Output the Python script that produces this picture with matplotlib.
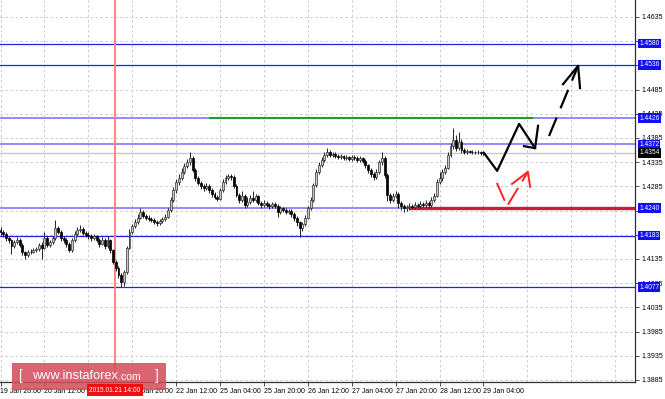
import numpy as np
import matplotlib
matplotlib.use("Agg")
import matplotlib.pyplot as plt
import matplotlib.transforms as mtransforms
from matplotlib.patches import Rectangle

plt.rcParams['font.family'] = ['Liberation Sans', 'DejaVu Sans']

# H1 candles, open of each bar = close of the previous one
first_open = 1.4195
closes = [
    1.4191, 1.4187, 1.4178, 1.4174, 1.4162, 1.4170, 1.4174, 1.4164, 1.4149, 1.4143,
    1.4149, 1.4150, 1.4153, 1.4155, 1.4164, 1.4158, 1.4178, 1.4164, 1.4170, 1.4178,
    1.4199, 1.4191, 1.4178, 1.4174, 1.4166, 1.4153, 1.4174, 1.4187, 1.4195, 1.4197,
    1.4189, 1.4184, 1.4182, 1.4178, 1.4182, 1.4174, 1.4166, 1.4174, 1.4162, 1.4174,
    1.4153, 1.4129, 1.4116, 1.4102, 1.4087, 1.4108, 1.4158, 1.4191, 1.4203, 1.4211,
    1.4220, 1.4232, 1.4224, 1.4220, 1.4218, 1.4215, 1.4211, 1.4209, 1.4213, 1.4218,
    1.4222, 1.4236, 1.4257, 1.4277, 1.4294, 1.4302, 1.4315, 1.4327, 1.4335, 1.4343,
    1.4319, 1.4302, 1.4292, 1.4286, 1.4282, 1.4286, 1.4277, 1.4269, 1.4263, 1.4259,
    1.4277, 1.4294, 1.4302, 1.4306, 1.4304, 1.4286, 1.4267, 1.4257, 1.4265, 1.4246,
    1.4253, 1.4261, 1.4257, 1.4265, 1.4251, 1.4246, 1.4251, 1.4247, 1.4244, 1.4249,
    1.4245, 1.4232, 1.4240, 1.4236, 1.4232, 1.4235, 1.4228, 1.4220, 1.4211, 1.4199,
    1.4207, 1.4220, 1.4240, 1.4257, 1.4288, 1.4315, 1.4329, 1.4339, 1.4350, 1.4356,
    1.4350, 1.4352, 1.4348, 1.4346, 1.4347, 1.4343, 1.4345, 1.4341, 1.4346, 1.4344,
    1.4339, 1.4343, 1.4338, 1.4329, 1.4319, 1.4310, 1.4304, 1.4315, 1.4335, 1.4343,
    1.4308, 1.4267, 1.4257, 1.4265, 1.4269, 1.4251, 1.4244, 1.4240, 1.4242, 1.4244,
    1.4243, 1.4246, 1.4245, 1.4249, 1.4247, 1.4251, 1.4246, 1.4257, 1.4265, 1.4294,
    1.4302, 1.4315, 1.4323, 1.4350, 1.4368, 1.4381, 1.4364, 1.4377, 1.4360, 1.4356,
    1.4358, 1.4357, 1.4356, 1.4355, 1.4356, 1.4353, 1.4354,
]
highs = [
    1.4201, 1.4195, 1.4190, 1.4182, 1.4177, 1.4175, 1.4180, 1.4178, 1.4167, 1.4152,
    1.4153, 1.4155, 1.4158, 1.4160, 1.4168, 1.4170, 1.4190, 1.4182, 1.4175, 1.4183,
    1.4215, 1.4204, 1.4194, 1.4182, 1.4178, 1.4170, 1.4178, 1.4192, 1.4200, 1.4205,
    1.4200, 1.4192, 1.4190, 1.4186, 1.4187, 1.4185, 1.4178, 1.4180, 1.4178, 1.4182,
    1.4177, 1.4156, 1.4133, 1.4120, 1.4106, 1.4112, 1.4162, 1.4196, 1.4208, 1.4217,
    1.4228, 1.4241, 1.4236, 1.4228, 1.4225, 1.4222, 1.4219, 1.4215, 1.4218, 1.4222,
    1.4228, 1.4240, 1.4262, 1.4284, 1.4300, 1.4310, 1.4322, 1.4333, 1.4342, 1.4356,
    1.4347, 1.4322, 1.4306, 1.4296, 1.4290, 1.4291, 1.4290, 1.4281, 1.4273, 1.4267,
    1.4282, 1.4300, 1.4308, 1.4311, 1.4310, 1.4308, 1.4290, 1.4272, 1.4275, 1.4270,
    1.4262, 1.4268, 1.4276, 1.4270, 1.4268, 1.4255, 1.4256, 1.4255, 1.4251, 1.4253,
    1.4252, 1.4248, 1.4244, 1.4243, 1.4240, 1.4239, 1.4238, 1.4231, 1.4224, 1.4214,
    1.4212, 1.4225, 1.4245, 1.4262, 1.4292, 1.4320, 1.4335, 1.4346, 1.4356, 1.4364,
    1.4360, 1.4357, 1.4355, 1.4352, 1.4351, 1.4350, 1.4350, 1.4348, 1.4350, 1.4349,
    1.4347, 1.4348, 1.4346, 1.4341, 1.4332, 1.4323, 1.4314, 1.4320, 1.4340, 1.4356,
    1.4347, 1.4312, 1.4272, 1.4272, 1.4276, 1.4273, 1.4255, 1.4249, 1.4247, 1.4250,
    1.4249, 1.4252, 1.4251, 1.4255, 1.4253, 1.4256, 1.4254, 1.4262, 1.4272, 1.4300,
    1.4315, 1.4320, 1.4330, 1.4356, 1.4375, 1.4406, 1.4392, 1.4398, 1.4382, 1.4364,
    1.4362, 1.4361, 1.4360, 1.4359, 1.4360, 1.4358, 1.4358,
]
lows = [
    1.4185, 1.4180, 1.4172, 1.4168, 1.4145, 1.4158, 1.4166, 1.4160, 1.4143, 1.4135,
    1.4140, 1.4145, 1.4147, 1.4150, 1.4152, 1.4135, 1.4155, 1.4160, 1.4160, 1.4166,
    1.4175, 1.4186, 1.4172, 1.4168, 1.4160, 1.4150, 1.4150, 1.4170, 1.4183, 1.4190,
    1.4185, 1.4180, 1.4176, 1.4172, 1.4175, 1.4170, 1.4160, 1.4163, 1.4155, 1.4158,
    1.4148, 1.4124, 1.4110, 1.4095, 1.4077, 1.4080, 1.4104, 1.4155, 1.4187, 1.4198,
    1.4207, 1.4217, 1.4219, 1.4215, 1.4213, 1.4211, 1.4207, 1.4204, 1.4205, 1.4209,
    1.4214, 1.4219, 1.4232, 1.4252, 1.4272, 1.4288, 1.4298, 1.4310, 1.4322, 1.4330,
    1.4315, 1.4296, 1.4287, 1.4280, 1.4276, 1.4278, 1.4272, 1.4264, 1.4259, 1.4254,
    1.4256, 1.4273, 1.4290, 1.4298, 1.4299, 1.4281, 1.4262, 1.4250, 1.4252, 1.4241,
    1.4242, 1.4249, 1.4252, 1.4253, 1.4246, 1.4241, 1.4243, 1.4242, 1.4239, 1.4240,
    1.4240, 1.4222, 1.4228, 1.4231, 1.4227, 1.4228, 1.4222, 1.4214, 1.4203, 1.4181,
    1.4193, 1.4203, 1.4217, 1.4236, 1.4253, 1.4284, 1.4311, 1.4325, 1.4335, 1.4345,
    1.4345, 1.4346, 1.4343, 1.4341, 1.4342, 1.4339, 1.4340, 1.4337, 1.4338, 1.4340,
    1.4335, 1.4336, 1.4333, 1.4323, 1.4312, 1.4305, 1.4298, 1.4300, 1.4311, 1.4330,
    1.4303, 1.4255, 1.4250, 1.4253, 1.4260, 1.4240, 1.4236, 1.4232, 1.4235, 1.4237,
    1.4238, 1.4239, 1.4240, 1.4241, 1.4242, 1.4243, 1.4241, 1.4243, 1.4252, 1.4262,
    1.4290, 1.4296, 1.4310, 1.4320, 1.4345, 1.4362, 1.4358, 1.4360, 1.4354, 1.4351,
    1.4352, 1.4353, 1.4352, 1.4351, 1.4351, 1.4349, 1.4350,
]

# price axis + time axis labels (tick every 16 bars); empty = hidden under a box
price_ticks = [1.3885, 1.3935, 1.3985, 1.4035, 1.4085, 1.4135, 1.4185, 1.4235,
               1.4285, 1.4335, 1.4385, 1.4435, 1.4485, 1.4535, 1.4585, 1.4635]
price_labels = ["1.3885", "1.3935", "1.3985", "1.4035", "1.4085", "1.4135", "", "",
                "1.4285", "1.4335", "1.4385", "1.4435", "1.4485", "", "", "1.4635"]
time_labels = ["19 Jan 20:00", "20 Jan 12:00", "", "21 Jan 20:00",
               "22 Jan 12:00", "25 Jan 04:00", "25 Jan 20:00", "26 Jan 12:00",
               "27 Jan 04:00", "27 Jan 20:00", "28 Jan 12:00", "29 Jan 04:00"]
bars_per_label = 16

# horizontal levels
strong_levels = [1.4580, 1.4536, 1.4183, 1.4077]
soft_levels = [1.4426, 1.4372, 1.4240]
last_price = 1.4354
green_level, green_from, green_to = 1.4426, 76.3, 193.7
red_level, red_from = 1.4240, 149.6
vline_bar, vline_label = 41.7, "2015.01.21 14:00"

# hand drawn forecast (bar position, price)
black_path_x = [176.2, 181.0, 189.0, 194.8]
black_path_y = [1.4354, 1.4317, 1.4414, 1.4364]
black_head1_x = [190.8, 194.8, 195.9]
black_head1_y = [1.4368, 1.4364, 1.4410]
black_dash_x = [199.9, 210.5]
black_dash_y = [1.4389, 1.4534]
black_head2_x = [205.0, 210.5, 211.2]
black_head2_y = [1.4496, 1.4534, 1.4488]
red_path_x = [180.9, 184.6, 192.2]
red_path_y = [1.4292, 1.4244, 1.4315]
red_head_x = [186.4, 192.2, 193.0]
red_head_y = [1.4290, 1.4315, 1.4284]

W, H = 665, 399
fig = plt.figure(figsize=(W / 100, H / 100), dpi=100)
ax = fig.add_axes([0, 17 / H, 635 / W, 382 / H])

px_per_bar = 2.744
ax.set_xlim(-0.5 / px_per_bar, 634.5 / px_per_bar)
ax.set_ylim(1.38808, 1.4670)

# grid
grid_kw = dict(color='#c4c4c4', lw=0.6, dashes=(3, 3), zorder=0)
for p in price_ticks:
    ax.axhline(p, **grid_kw)
for k in range(15):
    ax.axvline(k * bars_per_label, **grid_kw)

# levels
for lv in strong_levels:
    ax.axhline(lv, color='#2020f0', lw=0.9, zorder=2)
for lv in soft_levels:
    ax.axhline(lv, color='#8c8cff', lw=1.4, zorder=2)
ax.axhline(last_price, color='#c8c8c8', lw=1.0, zorder=1)
ax.axvline(vline_bar, color='#ff7a7a', lw=1.3, zorder=2)
ax.plot([green_from, green_to], [green_level, green_level], color='#1f9e2a', lw=1.5, zorder=3)
ax.plot([red_from, 232], [red_level, red_level], color='#cc1a3c', lw=2.4, zorder=3)

# candles
closes = np.array(closes)
highs = np.array(highs)
lows = np.array(lows)
opens = np.array([first_open] + list(closes[:-1]))
x = np.arange(len(closes))
up = closes >= opens
ax.vlines(x, lows, highs, color='#222222', lw=0.7, zorder=4)
body_lo = np.minimum(opens, closes)
body_h = np.maximum(np.abs(closes - opens), 0.00006)
ax.bar(x[up], body_h[up], bottom=body_lo[up], width=0.7, facecolor='#c8c8c8',
       edgecolor='#333333', lw=0.5, zorder=5)
ax.bar(x[~up], body_h[~up], bottom=body_lo[~up], width=0.7, facecolor='black',
       edgecolor='black', lw=0.5, zorder=5)

# forecast arrows
ax.plot(black_path_x, black_path_y, color='black', lw=1.6, zorder=6)
ax.plot(black_head1_x, black_head1_y, color='black', lw=1.6, zorder=6)
ax.plot(black_dash_x, black_dash_y, color='black', lw=1.6, dashes=(9, 4.5), zorder=6)
ax.plot(black_head2_x, black_head2_y, color='black', lw=1.6, zorder=6)
ax.plot(red_path_x, red_path_y, color='#ff2020', lw=1.4, dashes=(10, 4), zorder=6)
ax.plot(red_head_x, red_head_y, color='#ff2020', lw=1.4, zorder=6)

# axes look
for s in ['top', 'left']:
    ax.spines[s].set_visible(False)
ax.spines['right'].set_color('#303030')
ax.spines['bottom'].set_color('#303030')
ax.spines['right'].set_linewidth(0.9)
ax.spines['bottom'].set_linewidth(0.9)
ax.yaxis.tick_right()
ax.set_yticks(price_ticks)
ax.set_yticklabels(price_labels)
ax.set_xticks([k * bars_per_label for k in range(len(time_labels))])
ax.set_xticklabels(time_labels)
for lab in ax.get_xticklabels():
    lab.set_ha('left')
ax.tick_params(axis='both', labelsize=5, length=3, width=0.6, color='#303030', pad=1.5)
ax.tick_params(axis='x', pad=1.0)

# price boxes on the right axis
trans = mtransforms.blended_transform_factory(ax.transAxes, ax.transData)
for lv in strong_levels + soft_levels:
    ax.text(1.0065, lv, f"{lv:.4f}", transform=trans, fontsize=4.8, color='white',
            ha='left', va='center', clip_on=False, zorder=10,
            bbox=dict(boxstyle='square,pad=0.18', facecolor='#1010f0', edgecolor='none'))
ax.text(1.0065, last_price, f"{last_price:.4f}", transform=trans, fontsize=4.8,
        color='white', ha='left', va='center', clip_on=False, zorder=10,
        bbox=dict(boxstyle='square,pad=0.18', facecolor='black', edgecolor='none'))

# watermark
fig.add_artist(Rectangle((12 / W, 1 - 390 / H), 154 / W, 27 / H, transform=fig.transFigure,
                         facecolor='#d24a58', alpha=0.85, edgecolor='none', zorder=20))
fig.text(19 / W, 1 - 376 / H, "[", fontsize=10, color='white', va='center', zorder=21)
fig.text(32 / W, 1 - 376 / H, "www.instaforex", fontsize=9.2, color='white', va='center', zorder=21)
fig.text(118 / W, 1 - 377 / H, ".com", fontsize=7.6, color='white', va='center', zorder=21)
fig.text(155 / W, 1 - 376 / H, "]", fontsize=10, color='white', va='center', zorder=21)

# crosshair time label, drawn over the watermark
fig.text(115 / W, 1 - 390 / H, vline_label, fontsize=4.8, color='white', ha='center',
         va='center', zorder=25,
         bbox=dict(boxstyle='square,pad=0.35', facecolor='#ee1111', edgecolor='none'))

fig.savefig("out.png", dpi=100)
